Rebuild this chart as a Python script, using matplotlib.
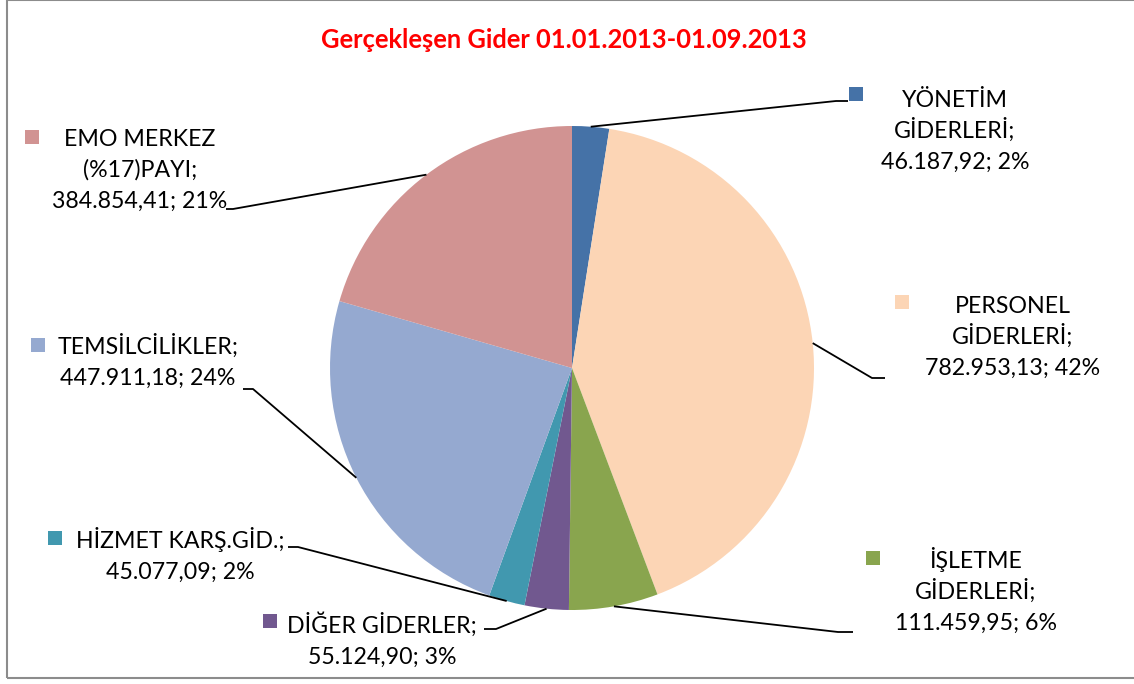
import numpy as np
import matplotlib
matplotlib.use("Agg")
from matplotlib import pyplot as plt
from matplotlib.patches import Rectangle

W, H = 1134, 684

title = "Gerçekleşen Gider 01.01.2013-01.09.2013"
categories = ["YÖNETİM\nGİDERLERİ", "PERSONEL\nGİDERLERİ", "İŞLETME\nGİDERLERİ",
              "DİĞER GİDERLER", "HİZMET KARŞ.GİD.", "TEMSİLCİLİKLER",
              "EMO MERKEZ\n(%17)PAYI"]
values = [46187.92, 782953.13, 111459.95, 55124.90, 45077.09, 447911.18, 384854.41]
colors = ["#4572A7", "#FCD5B5", "#89A54E", "#71588F", "#4198AF", "#95A9D0", "#D19392"]

# label layout in pixels: marker centre, text centre x, first baseline, elbow, line end
layout = [
    dict(mk=(856, 94), tx=955, by=107, elbow=(836, 101)),
    dict(mk=(902, 302), tx=1013, by=313, elbow=(872, 378)),
    dict(mk=(873, 558), tx=976, by=568, elbow=(838, 632)),
    dict(mk=(270, 621), tx=382, by=633, elbow=(496, 629)),
    dict(mk=(55, 538), tx=180, by=548, elbow=(298, 547)),
    dict(mk=(38, 345), tx=148, by=354, elbow=(253, 389)),
    dict(mk=(32, 137), tx=140, by=146, elbow=(233, 209)),
]
line_ends = [(848, 101), (885, 378), (853, 632), (484, 629), (288, 547), (243, 389), (226, 209)]
pitch = 31

cx, cy, r = 572, 368, 242


def py(y):
    return H - y


def tr_fmt(v):
    s = "{:,.2f}".format(v)
    return s.replace(",", "X").replace(".", ",").replace("X", ".")


plt.rcParams['font.family'] = ['Lato', 'DejaVu Sans']
fig = plt.figure(figsize=(W / 100, H / 100), dpi=100)
ax = fig.add_axes([0, 0, 1, 1])

wedges, _ = ax.pie(values, colors=colors, startangle=90, counterclock=False,
                   center=(cx, py(cy)), radius=r, wedgeprops=dict(linewidth=0))
ax.set_xlim(0, W)
ax.set_ylim(0, H)
ax.set_aspect('equal')
ax.axis('off')

# chart border
ax.add_patch(Rectangle((7, py(678)), W - 4, 678, fill=False, edgecolor="#8c8c8c",
                       linewidth=1.5, clip_on=False))

ax.text(564, py(48), title, color="#FF0000", fontsize=18.4, fontweight='bold',
        ha='center', va='baseline')

total = sum(values)
for w, name, val, lay, end in zip(wedges, categories, values, layout, line_ends):
    mid = np.deg2rad((w.theta1 + w.theta2) / 2)
    ex = cx + r * np.cos(mid)
    ey = py(cy) + r * np.sin(mid)
    ax.plot([ex, lay['elbow'][0], end[0]], [ey, py(lay['elbow'][1]), py(end[1])],
            color="black", linewidth=1.3, solid_capstyle='butt')
    lines = name.split("\n")
    lines[-1] = lines[-1] + ";"
    lines.append("{}; {:.0f}%".format(tr_fmt(val), val / total * 100))
    for i, ln in enumerate(lines):
        ax.text(lay['tx'], py(lay['by'] + i * pitch), ln, fontsize=16.7,
                ha='center', va='baseline', color="black")
    mx, my = lay['mk']
    ax.add_patch(Rectangle((mx - 7, py(my) - 7), 14, 14, facecolor=w.get_facecolor(),
                           edgecolor='none'))

fig.savefig("out.png", dpi=100)
